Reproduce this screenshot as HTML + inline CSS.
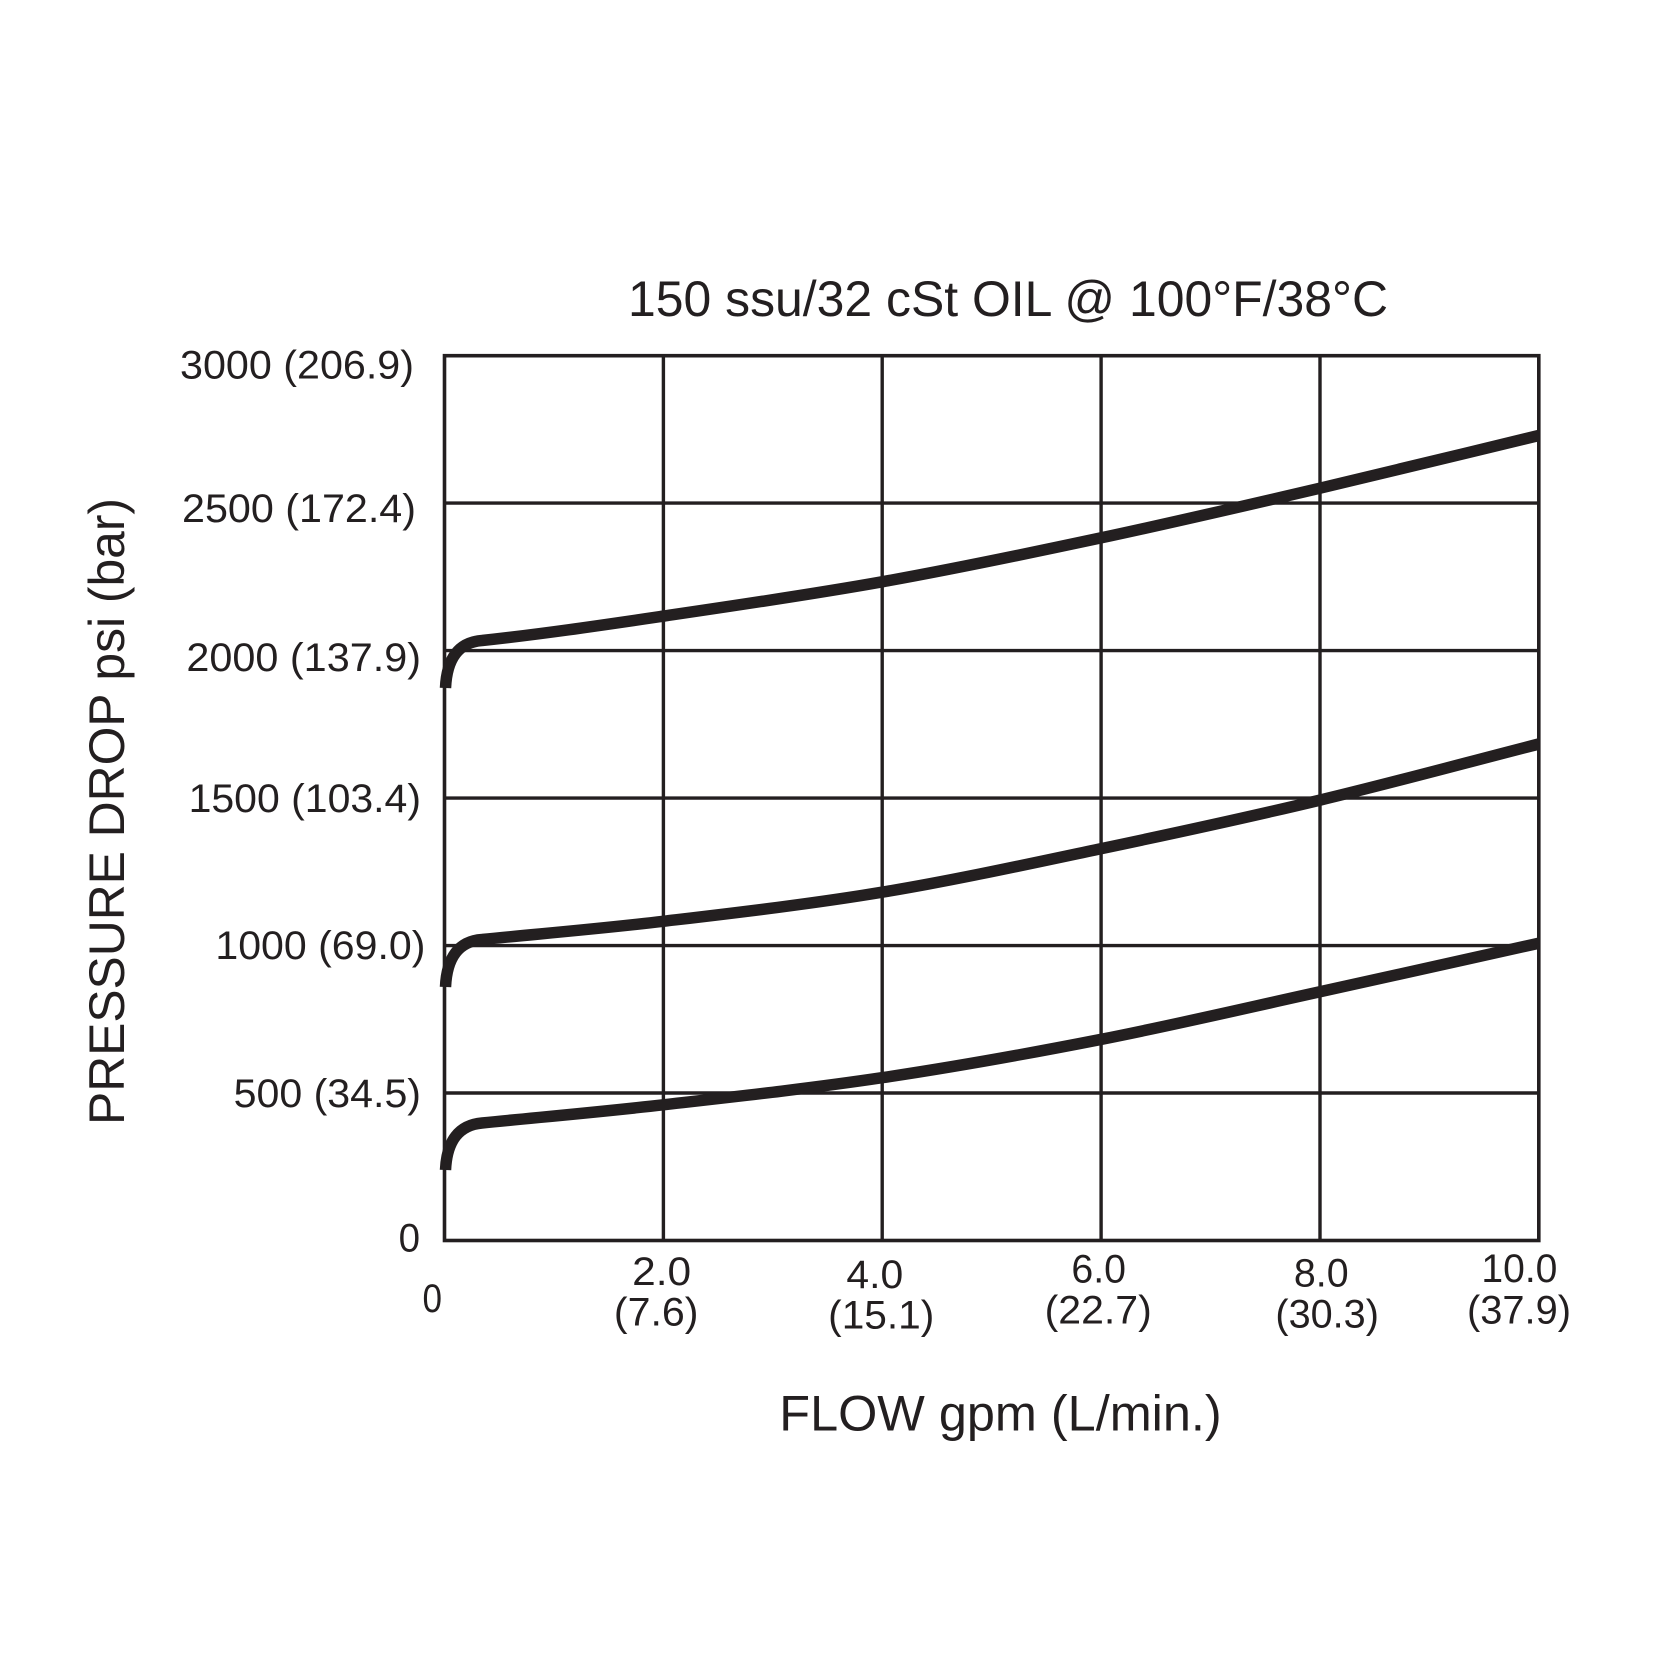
<!DOCTYPE html>
<html>
<head>
<meta charset="utf-8">
<style>
  html, body { margin: 0; padding: 0; background: #ffffff; }
  svg { display: block; }
  text { font-family: "Liberation Sans", Arial, Helvetica, sans-serif; fill: #231f20; }
</style>
</head>
<body>
<svg width="1680" height="1680" viewBox="0 0 1680 1680" xmlns="http://www.w3.org/2000/svg">
  <rect x="0" y="0" width="1680" height="1680" fill="#ffffff"/>

  <!-- Title -->
  <text x="628" y="316" font-size="50" textLength="760" lengthAdjust="spacingAndGlyphs">150 ssu/32 cSt OIL @ 100°F/38°C</text>

  <!-- Grid -->
  <g stroke="#231f20" stroke-width="3.4" fill="none">
    <line x1="663.4" y1="355.7" x2="663.4" y2="1240.5"/>
    <line x1="882.2" y1="355.7" x2="882.2" y2="1240.5"/>
    <line x1="1101.1" y1="355.7" x2="1101.1" y2="1240.5"/>
    <line x1="1320" y1="355.7" x2="1320" y2="1240.5"/>
    <line x1="444.5" y1="503.1" x2="1538.8" y2="503.1"/>
    <line x1="444.5" y1="650.6" x2="1538.8" y2="650.6"/>
    <line x1="444.5" y1="798.1" x2="1538.8" y2="798.1"/>
    <line x1="444.5" y1="945.6" x2="1538.8" y2="945.6"/>
    <line x1="444.5" y1="1093.0" x2="1538.8" y2="1093.0"/>
    <rect x="444.5" y="355.7" width="1094.3" height="884.8" stroke-width="3.6"/>
  </g>

  <!-- Curves -->
  <g stroke="#231f20" stroke-width="11.5" fill="none" stroke-linejoin="round" stroke-linecap="butt">
    <path d="M445.5,688 Q447.5,643 482,640.5 C542,634 597.5,625.8 664.3,616 C731.1,606.2 809.95,594.73 882.8,581.7 C955.65,568.67 1028.53,553.38 1101.4,537.8 C1174.27,522.22 1247.1,505.25 1320,488.2 C1392.9,471.15 1465.87,453.07 1538.8,435.5"/>
    <path d="M445.5,987 Q447.5,942 482,939.5 C542,933.5 597.5,929.1 664.3,921.2 C731.1,913.3 809.95,904.2 882.8,892.1 C955.65,880 1028.53,863.93 1101.4,848.6 C1174.27,833.27 1247.1,817.53 1320,800.1 C1392.9,782.67 1465.87,762.7 1538.8,744"/>
    <path d="M445.5,1170 Q447.5,1126 482,1123 C542,1117 597.5,1112.27 664.3,1104.7 C731.1,1097.13 809.95,1088.5 882.8,1077.6 C955.65,1066.7 1028.53,1053.6 1101.4,1039.3 C1174.27,1025 1247.1,1007.82 1320,991.8 C1392.9,975.78 1465.87,959.4 1538.8,943.2"/>
  </g>

  <!-- Y tick labels -->
  <g font-size="40">
    <text x="180" y="378.3" textLength="234" lengthAdjust="spacingAndGlyphs">3000 (206.9)</text>
    <text x="182" y="522" textLength="234" lengthAdjust="spacingAndGlyphs">2500 (172.4)</text>
    <text x="186.4" y="671" textLength="234.6" lengthAdjust="spacingAndGlyphs">2000 (137.9)</text>
    <text x="188.6" y="812" textLength="232.4" lengthAdjust="spacingAndGlyphs">1500 (103.4)</text>
    <text x="215.4" y="959" textLength="210" lengthAdjust="spacingAndGlyphs">1000 (69.0)</text>
    <text x="233.6" y="1107" textLength="187.4" lengthAdjust="spacingAndGlyphs">500 (34.5)</text>
    <text x="398.6" y="1251.4" textLength="21.4" lengthAdjust="spacingAndGlyphs">0</text>
  </g>

  <!-- X tick labels -->
  <g font-size="40">
    <text x="422.5" y="1312" textLength="19.5" lengthAdjust="spacingAndGlyphs">0</text>
    <text x="632.1" y="1285" textLength="59" lengthAdjust="spacingAndGlyphs">2.0</text>
    <text x="613.9" y="1325.5" textLength="84.6" lengthAdjust="spacingAndGlyphs">(7.6)</text>
    <text x="846.4" y="1288" textLength="56.8" lengthAdjust="spacingAndGlyphs">4.0</text>
    <text x="828.2" y="1328.7" textLength="106.1" lengthAdjust="spacingAndGlyphs">(15.1)</text>
    <text x="1071.4" y="1282.6" textLength="54.6" lengthAdjust="spacingAndGlyphs">6.0</text>
    <text x="1044.6" y="1323.4" textLength="107.2" lengthAdjust="spacingAndGlyphs">(22.7)</text>
    <text x="1293.9" y="1286.6" textLength="54.7" lengthAdjust="spacingAndGlyphs">8.0</text>
    <text x="1275.4" y="1327.6" textLength="103.5" lengthAdjust="spacingAndGlyphs">(30.3)</text>
    <text x="1481.4" y="1281.9" textLength="76" lengthAdjust="spacingAndGlyphs">10.0</text>
    <text x="1467" y="1323.4" textLength="104" lengthAdjust="spacingAndGlyphs">(37.9)</text>
  </g>

  <!-- Axis titles -->
  <text x="779.3" y="1430.7" font-size="50" textLength="442.4" lengthAdjust="spacingAndGlyphs">FLOW gpm (L/min.)</text>
  <text transform="translate(124,811.5) rotate(-90)" x="0" y="0" font-size="50" text-anchor="middle" textLength="627" lengthAdjust="spacingAndGlyphs">PRESSURE DROP psi (bar)</text>
</svg>
</body>
</html>
